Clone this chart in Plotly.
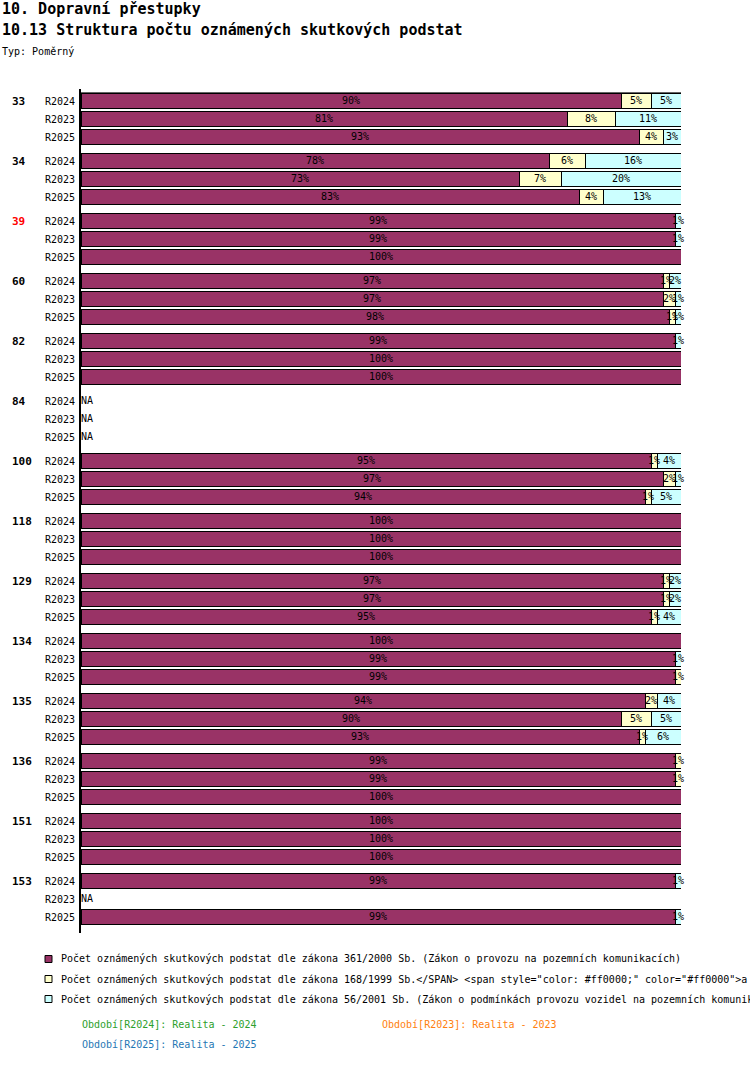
import plotly.graph_objects as go

# data (percent share per period)
groups = ["33", "34", "39", "60", "82", "84", "100", "118", "129", "134", "135", "136", "151", "153"]
highlighted = ["39"]
periods = ["R2024", "R2023", "R2025"]

s361 = [[90, 81, 93], [78, 73, 83], [99, 99, 100], [97, 97, 98], [99, 100, 100],
        [None, None, None], [95, 97, 94], [100, 100, 100], [97, 97, 95], [100, 99, 99],
        [94, 90, 93], [99, 99, 100], [100, 100, 100], [99, None, 99]]
s168 = [[5, 8, 4], [6, 7, 4], [0, 0, 0], [1, 2, 1], [0, 0, 0],
        [None, None, None], [1, 2, 1], [0, 0, 0], [1, 1, 1], [0, 0, 1],
        [2, 5, 1], [1, 1, 0], [0, 0, 0], [0, None, 0]]
s56 = [[5, 11, 3], [16, 20, 13], [1, 1, 0], [2, 1, 1], [1, 0, 0],
       [None, None, None], [4, 1, 5], [0, 0, 0], [2, 2, 4], [0, 1, 0],
       [4, 5, 6], [0, 0, 0], [0, 0, 0], [1, None, 1]]

series_names = [
    "Počet oznámených skutkových podstat dle zákona 361/2000 Sb. (Zákon o provozu na pozemních komunikacích)",
    "Počet oznámených skutkových podstat dle zákona 168/1999 Sb.&lt;/SPAN&gt; &lt;span style=\"color: #ff0000;\" color=\"#ff0000\"&gt;a",
    "Počet oznámených skutkových podstat dle zákona 56/2001 Sb. (Zákon o podmínkách provozu vozidel na pozemních komunikacích)",
]
series_colors = ["#993366", "#ffffcc", "#ccffff"]

period_legend = [
    ("Období[R2024]: Realita - 2024", "#2ca02c"),
    ("Období[R2023]: Realita - 2023", "#ff7f0e"),
    ("Období[R2025]: Realita - 2025", "#1f77b4"),
]

FONT = "DejaVu Sans Mono"
GROUP_STEP = 10 / 3  # rows per group incl. gap

# flatten rows
ypos, row_labels = [], []
vals = [[], [], []]
for g, name in enumerate(groups):
    for k, p in enumerate(periods):
        ypos.append(g * GROUP_STEP + k)
        row_labels.append(p)
        vals[0].append(s361[g][k])
        vals[1].append(s168[g][k])
        vals[2].append(s56[g][k])

fig = go.Figure()

for i, series in enumerate(vals):
    fig.add_trace(go.Bar(
        x=[v if v else None for v in series],
        y=ypos,
        orientation="h",
        name=series_names[i],
        marker=dict(color=series_colors[i], line=dict(color="black", width=1)),
        width=0.86,
        hoverinfo="skip",
    ))

# percent labels at segment centres
lx, ly, lt = [], [], []
na_y = []
for r, y in enumerate(ypos):
    if vals[0][r] is None:
        na_y.append(y)
        continue
    left = 0
    for series in vals:
        v = series[r]
        if v:
            lx.append(left + v / 2)
            ly.append(y)
            lt.append(f"{v}%")
        left += v or 0

fig.add_trace(go.Scatter(
    x=lx, y=ly, text=lt, mode="text", textposition="middle center",
    textfont=dict(family=FONT, size=10, color="black"),
    cliponaxis=False, hoverinfo="skip", showlegend=False,
))
fig.add_trace(go.Scatter(
    x=[0] * len(na_y), y=na_y, text=["NA"] * len(na_y), mode="text",
    textposition="middle right",
    textfont=dict(family=FONT, size=10, color="black"),
    cliponaxis=False, hoverinfo="skip", showlegend=False,
))

fig.update_layout(
    barmode="stack",
    width=750, height=1082,
    margin=dict(l=81, r=69, t=89, b=149),
    paper_bgcolor="white", plot_bgcolor="white",
    showlegend=False,
    font=dict(family=FONT, size=10, color="black"),
    xaxis=dict(range=[0, 100], visible=False, fixedrange=True),
    yaxis=dict(
        range=[ypos[-1] + 16 / 18, -12 / 18],
        tickvals=ypos, ticktext=row_labels,
        ticks="", showgrid=False, zeroline=False,
        showline=True, linewidth=2, linecolor="black",
        tickfont=dict(family=FONT, size=10, color="black"),
        ticklabelstandoff=2,
    ),
)

# short top rule
fig.add_shape(type="line", xref="x", yref="y", x0=-1, x1=100.7, y0=-0.45, y1=-0.45,
              line=dict(color="black", width=1))

# group labels
for g, name in enumerate(groups):
    fig.add_annotation(
        text=f"<b>{name}</b>", xref="paper", yref="y", x=(10 - 81) / 600, y=g * GROUP_STEP,
        xanchor="left", yanchor="middle", showarrow=False,
        font=dict(family=FONT, size=11, color="red" if name in highlighted else "black"),
    )

def px_x(px):
    return (px - 81) / 600

def px_y(py):
    return (933 - py) / 844

# titles
fig.add_annotation(text="<b>10. Dopravní přestupky</b>", xref="paper", yref="paper",
                   x=px_x(0), y=px_y(9), xanchor="left", yanchor="middle", showarrow=False,
                   font=dict(family=FONT, size=15))
fig.add_annotation(text="<b>10.13 Struktura počtu oznámených skutkových podstat</b>", xref="paper",
                   yref="paper", x=px_x(0), y=px_y(30), xanchor="left", yanchor="middle",
                   showarrow=False, font=dict(family=FONT, size=15))
fig.add_annotation(text="Typ: Poměrný", xref="paper", yref="paper", x=px_x(0), y=px_y(51),
                   xanchor="left", yanchor="middle", showarrow=False, font=dict(family=FONT, size=10))

# series legend
for i, name in enumerate(series_names):
    cy = 959 + 20 * i
    fig.add_shape(type="rect", xref="paper", yref="paper",
                  x0=px_x(45), x1=px_x(52), y0=px_y(cy + 3.5), y1=px_y(cy - 3.5),
                  fillcolor=series_colors[i], line=dict(color="black", width=1))
    fig.add_annotation(text=name, xref="paper", yref="paper", x=px_x(59), y=px_y(cy),
                       xanchor="left", yanchor="middle", showarrow=False,
                       font=dict(family=FONT, size=10))

# period legend
period_pos = [(80, 1024), (380, 1024), (80, 1044)]
for (label, color), (px, py) in zip(period_legend, period_pos):
    fig.add_annotation(text=label, xref="paper", yref="paper", x=px_x(px), y=px_y(py),
                       xanchor="left", yanchor="middle", showarrow=False,
                       font=dict(family=FONT, size=10, color=color))

# page body has an 8px default margin; drop it so the figure sits at 0,0
fig.write_html("out.html", config={"displayModeBar": False},
               post_script="document.body.style.margin = '0';")
